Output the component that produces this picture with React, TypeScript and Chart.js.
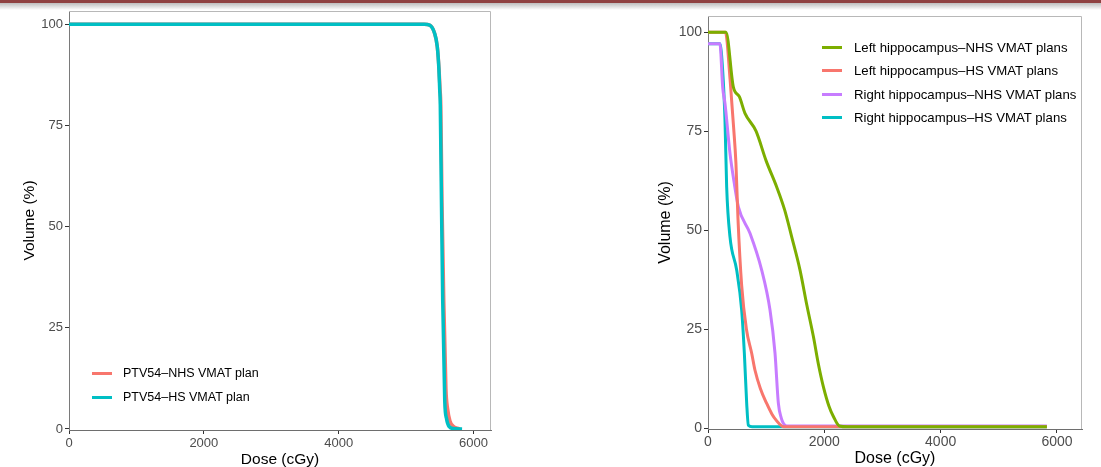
import React, { useEffect, useRef } from 'react';
import { Chart, registerables } from 'chart.js';
Chart.register(...registerables);

const FONT = '"Liberation Sans", Arial, Helvetica, sans-serif';

const yTicks = [0, 25, 50, 75, 100];
const xTicks = [0, 2000, 4000, 6000];

// ---- Left panel: PTV54 ----
const ptvLabels = ['PTV54–NHS VMAT plan', 'PTV54–HS VMAT plan'];
const ptvColors = ['#F8766D', '#00BFC4'];
const ptvNhsDose = [0, 5270, 5350, 5422, 5462, 5488, 5503, 5514, 5532, 5558, 5590, 5615, 5650, 5700, 5760, 5800];
const ptvNhsVol = [100, 100, 99.8, 97.8, 94.5, 89, 84, 80, 56, 32, 10, 5, 2, 0.7, 0.2, 0];
const ptvHsDose = [0, 5270, 5348, 5422, 5462, 5486, 5498, 5507, 5524, 5543, 5573, 5600, 5643, 5700, 5830];
const ptvHsVol = [100, 100, 99.8, 97.8, 94.5, 89, 84, 80, 56.4, 31.7, 6.9, 2.5, 0.5, 0.1, 0];

// ---- Right panel: hippocampi ----
const hipLabels = [
  'Left hippocampus–NHS VMAT plans',
  'Left hippocampus–HS VMAT plans',
  'Right hippocampus–NHS VMAT plans',
  'Right hippocampus–HS VMAT plans',
];
const hipColors = ['#7CAE00', '#F8766D', '#C77CFF', '#00BFC4'];
const leftNhsDose = [0, 310, 435, 539, 636, 826, 1000, 1181, 1320, 1439, 1582, 1700, 1812, 1900, 1984, 2080, 2156, 2259, 2400, 5826];
const leftNhsVol = [100, 100, 86.2, 83.7, 79.5, 75, 67.5, 60.9, 55, 48.3, 39.9, 31, 23.1, 16, 10.4, 5.5, 2.9, 0.5, 0.3, 0.3];
const leftHsDose = [0, 300, 380, 440, 480, 515, 579, 660, 751, 808, 900, 1009, 1100, 1181, 1260, 1300, 5826];
const leftHsVol = [100, 100, 88, 76, 67, 53, 36, 25, 18.9, 14.6, 10, 6.2, 3.5, 1.8, 0.6, 0.3, 0.3];
const rightNhsDose = [0, 205, 253, 292, 378, 450, 522, 722, 923, 1066, 1152, 1210, 1260, 1295, 1353, 5826];
const rightNhsVol = [97.1, 97.1, 86, 82, 69.4, 62, 55.9, 49.2, 39.9, 29.8, 18.9, 6.2, 2.5, 1.2, 0.5, 0.5];
const rightHsDose = [0, 205, 252, 292, 321, 378, 493, 579, 625, 665, 694, 760, 5826];
const rightHsVol = [97.1, 97.1, 90.4, 77.8, 60.9, 48.3, 39.9, 29.8, 18.9, 6.3, 0.7, 0.3, 0.3];

const toPts = (xs: number[], ys: number[]) => xs.map((x, i) => ({ x, y: ys[i] }));

const panelBorder = {
  id: 'panelBorder',
  afterDraw(chart: any) {
    const { ctx, chartArea: a } = chart;
    ctx.save();
    ctx.strokeStyle = '#b8b8b8';
    ctx.lineWidth = 1;
    ctx.beginPath();
    ctx.moveTo(a.left, a.top + 0.5);
    ctx.lineTo(a.right - 0.5, a.top + 0.5);
    ctx.lineTo(a.right - 0.5, a.bottom);
    ctx.stroke();
    ctx.restore();
  },
};

type Cfg = {
  padding: { left: number; right: number; top: number; bottom: number };
  yWidth: number;
  xHeight: number;
  xMax: number;
  yMin: number;
  yMax: number;
  tickSize: number;
  titleSize: number;
  yTitlePad: number;
  xTickPad: number;
  datasets: any[];
};

function makeChart(canvas: HTMLCanvasElement, c: Cfg) {
  return new Chart(canvas, {
    type: 'line',
    data: { datasets: c.datasets },
    options: {
      responsive: false,
      animation: false,
      events: [],
      layout: { padding: c.padding },
      plugins: { legend: { display: false }, tooltip: { enabled: false } },
      elements: { point: { radius: 0 } },
      scales: {
        x: {
          type: 'linear',
          min: 0,
          max: c.xMax,
          afterBuildTicks: (s: any) => {
            s.ticks = xTicks.map((v) => ({ value: v }));
          },
          afterFit: (s: any) => {
            s.height = c.xHeight;
          },
          grid: { display: true, drawOnChartArea: false, drawTicks: true, tickLength: 4, color: '#333333', lineWidth: 1 },
          border: { display: true, color: '#6e6e6e', width: 1 },
          ticks: {
            color: '#4d4d4d',
            font: { family: FONT, size: c.tickSize },
            padding: c.xTickPad,
            maxRotation: 0,
            autoSkip: false,
            callback: (v: any) => String(v),
          },
          title: {
            display: true,
            text: 'Dose (cGy)',
            color: '#000000',
            font: { family: FONT, size: c.titleSize, lineHeight: 1 },
            padding: { top: 0, bottom: 0 },
          },
        },
        y: {
          type: 'linear',
          min: c.yMin,
          max: c.yMax,
          afterBuildTicks: (s: any) => {
            s.ticks = yTicks.map((v) => ({ value: v }));
          },
          afterFit: (s: any) => {
            s.width = c.yWidth;
          },
          grid: { display: true, drawOnChartArea: false, drawTicks: true, tickLength: 4, color: '#333333', lineWidth: 1 },
          border: { display: true, color: '#7a7a7a', width: 1 },
          ticks: {
            color: '#4d4d4d',
            font: { family: FONT, size: c.tickSize },
            padding: 2,
            autoSkip: false,
            callback: (v: any) => String(v),
          },
          title: {
            display: true,
            text: 'Volume (%)',
            color: '#000000',
            font: { family: FONT, size: c.titleSize, lineHeight: 1 },
            padding: { top: c.yTitlePad, bottom: 0 },
          },
        },
      },
    } as any,
    plugins: [panelBorder],
  });
}

function ds(label: string, color: string, xs: number[], ys: number[], order: number, width: number) {
  return {
    label,
    data: toPts(xs, ys),
    borderColor: color,
    backgroundColor: color,
    borderWidth: width,
    pointRadius: 0,
    fill: false,
    cubicInterpolationMode: 'monotone',
    order,
  };
}

function Legend(props: {
  labels: string[];
  colors: string[];
  left: number;
  rows: number[];
  size: number;
  swatch: number;
  gap: number;
}) {
  return (
    <>
      {props.labels.map((lab, i) => (
        <div
          key={lab}
          style={{
            position: 'absolute',
            left: props.left,
            top: props.rows[i] - 10,
            height: 20,
            display: 'flex',
            alignItems: 'center',
            whiteSpace: 'nowrap',
            fontFamily: FONT,
            fontSize: props.size,
            color: '#000',
          }}
        >
          <span style={{ display: 'inline-block', width: props.swatch, height: 3, background: props.colors[i], marginRight: props.gap }} />
          <span>{lab}</span>
        </div>
      ))}
    </>
  );
}

export default function App() {
  const leftRef = useRef<HTMLCanvasElement>(null);
  const rightRef = useRef<HTMLCanvasElement>(null);

  useEffect(() => {
    const left = makeChart(leftRef.current!, {
      padding: { left: 15, right: 69, top: 11, bottom: 0 },
      yWidth: 54,
      xHeight: 37,
      xMax: 6259,
      yMin: -0.25,
      yMax: 103.3,
      tickSize: 13,
      titleSize: 15.5,
      yTitlePad: 7,
      xTickPad: 2,
      datasets: [
        ds(ptvLabels[0], ptvColors[0], ptvNhsDose, ptvNhsVol, 1, 3.5),
        ds(ptvLabels[1], ptvColors[1], ptvHsDose, ptvHsVol, 0, 3.5),
      ],
    });
    const right = makeChart(rightRef.current!, {
      padding: { left: 95, right: 19, top: 16, bottom: 0 },
      yWidth: 53,
      xHeight: 38,
      xMax: 6430,
      yMin: -0.25,
      yMax: 104.1,
      tickSize: 14,
      titleSize: 16,
      yTitlePad: 3,
      xTickPad: 1,
      datasets: [
        ds(hipLabels[0], hipColors[0], leftNhsDose, leftNhsVol, 0, 3),
        ds(hipLabels[1], hipColors[1], leftHsDose, leftHsVol, 1, 3),
        ds(hipLabels[2], hipColors[2], rightNhsDose, rightNhsVol, 2, 3),
        ds(hipLabels[3], hipColors[3], rightHsDose, rightHsVol, 3, 3),
      ],
    });
    return () => {
      left.destroy();
      right.destroy();
    };
  }, []);

  return (
    <div style={{ position: 'fixed', left: 0, top: 0, width: 1101, height: 467, background: '#fff', overflow: 'hidden' }}>
      <canvas ref={leftRef} width={560} height={467} style={{ position: 'absolute', left: 0, top: 0 }} />
      <canvas ref={rightRef} width={541} height={467} style={{ position: 'absolute', left: 560, top: 0 }} />
      <div style={{ position: 'absolute', left: 0, top: 0, width: 1101, height: 3, background: '#8f4141' }} />
      <div style={{ position: 'absolute', left: 0, top: 3, width: 1101, height: 7, background: 'linear-gradient(#bdbdbd, #ffffff)' }} />
      <Legend labels={ptvLabels} colors={ptvColors} left={92} rows={[373, 397]} size={12.5} swatch={20} gap={11} />
      <Legend labels={hipLabels} colors={hipColors} left={822} rows={[47, 70.5, 94, 117]} size={13.2} swatch={20} gap={12} />
    </div>
  );
}
